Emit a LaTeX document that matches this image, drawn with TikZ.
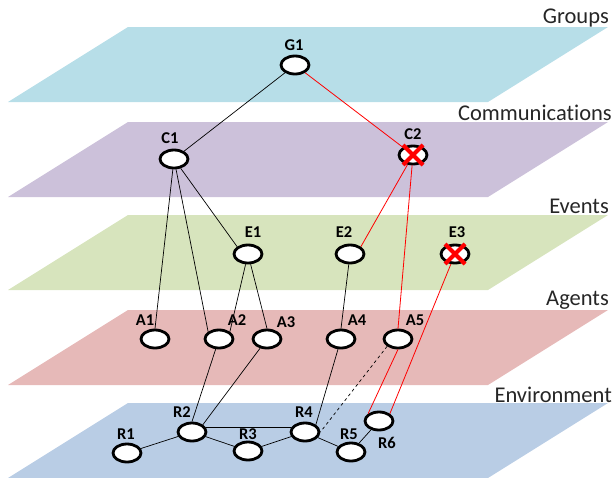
\documentclass[tikz,border=0pt]{standalone}
\usepackage{fontspec}
\setmainfont{Carlito}[Ligatures=NoCommon]
\usetikzlibrary{shapes.geometric}
\begin{document}
\begin{tikzpicture}[x=1pt,y=-1pt,
  nd/.style={ellipse,draw=black,line width=2.8pt,fill=white,minimum width=28pt,minimum height=18pt,inner sep=0pt},
  lb/.style={font=\fontsize{16.5}{16.5}\selectfont\bfseries,inner sep=0pt},
  layer/.style={font=\fontsize{22.5}{22.5}\selectfont,anchor=east,inner sep=0pt,text=black!85},
  bl/.style={draw=black,line width=0.7pt},
  rd/.style={draw=red,line width=0.8pt},
  xm/.style={draw=red,line width=4pt}]
\useasboundingbox (0,0) rectangle (613,477);
\definecolor{cgrp}{HTML}{B7DEE8}
\definecolor{ccom}{HTML}{CCC1DA}
\definecolor{cevt}{HTML}{D7E4BD}
\definecolor{cagt}{HTML}{E6B9B8}
\definecolor{cenv}{HTML}{B9CDE5}
% planes
\fill[cgrp] (128,27) -- (608,27) -- (488,102) -- (8,102) -- cycle;
\fill[ccom] (128,122) -- (608,122) -- (488,197) -- (8,197) -- cycle;
\fill[cevt] (128,215) -- (608,215) -- (488,290) -- (8,290) -- cycle;
\fill[cagt] (128,310) -- (608,310) -- (488,385) -- (8,385) -- cycle;
\fill[cenv] (128,403) -- (608,403) -- (488,478) -- (8,478) -- cycle;
% layer labels
\node[layer] (lgrp) at (609,18) {Groups};
\node[layer] (lcom) at (612,113) {Communications};
\node[layer] (levt) at (609,206) {Events};
\node[layer] (lagt) at (609,300) {Agents};
\node[layer] (lenv) at (612,395) {Environment};
% nodes
\node[nd] (G1) at (295,65) {};
\node[nd] (C1) at (174,159) {};
\node[nd] (C2) at (413,155) {};
\node[nd] (E1) at (248,254) {};
\node[nd] (E2) at (350,254) {};
\node[nd] (E3) at (455,254) {};
\node[nd] (A1) at (155,339) {};
\node[nd] (A2) at (219,339) {};
\node[nd] (A3) at (267,339) {};
\node[nd] (A4) at (341,339) {};
\node[nd] (A5) at (398,339) {};
\node[nd] (R1) at (127,453) {};
\node[nd] (R2) at (192,432) {};
\node[nd] (R3) at (248,451) {};
\node[nd] (R4) at (305,432) {};
\node[nd] (R5) at (351,452) {};
\node[nd] (R6) at (379,421) {};
% node labels
\node[lb] (G1l) at (294,45) {G1};
\node[lb] (C1l) at (170,138) {C1};
\node[lb] (C2l) at (413,134) {C2};
\node[lb] (E1l) at (253,232) {E1};
\node[lb] (E2l) at (344,232) {E2};
\node[lb] (E3l) at (457,232) {E3};
\node[lb] (A1l) at (145,320) {A1};
\node[lb] (A2l) at (237,320) {A2};
\node[lb] (A3l) at (286,322) {A3};
\node[lb] (A4l) at (357,320) {A4};
\node[lb] (A5l) at (415,320) {A5};
\node[lb] (R1l) at (126,434) {R1};
\node[lb] (R2l) at (182,412) {R2};
\node[lb] (R3l) at (248,434) {R3};
\node[lb] (R4l) at (304,412) {R4};
\node[lb] (R5l) at (349,434) {R5};
\node[lb] (R6l) at (387,443) {R6};
% edges
\path[bl] (G1) -- (C1);
\path[rd] (G1) -- (C2);
\path[bl] (C1) -- (A1.north);
\path[bl] (C1) -- (A2.north west);
\path[bl] (C1) -- (E1.north west);
\path[rd] (C2) -- (E2.north east);
\path[rd] (C2) -- (A5.north);
\path[rd] (A5.south) -- (R6.north west);
\path[rd] (E3) -- (R6.north east);
\path[bl] (E1) -- (A2.north east);
\path[bl] (E1) -- (A3.north);
\path[bl] (E2) -- (A4.north);
\path[bl] (A2) -- (R2.north);
\path[bl] (A3) -- (R2.north east);
\path[bl] (A4) -- (R4.north east);
\path[bl,dashed] (A5.south west) -- (R4.east);
\path[bl] (R1) -- (R2);
\path[bl] (R2) -- (R3);
\path[bl] (R2.20) -- (R4.160);
\path[bl] (R3) -- (R4);
\path[bl] (R4) -- (R5);
\path[bl] (R5) -- (R6);
% red crosses
\draw[xm] ([shift={(-10,-10)}]C2.center) -- ([shift={(10,10)}]C2.center);
\draw[xm] ([shift={(-10,10)}]C2.center) -- ([shift={(10,-10)}]C2.center);
\draw[xm] ([shift={(-10,-10)}]E3.center) -- ([shift={(10,10)}]E3.center);
\draw[xm] ([shift={(-10,10)}]E3.center) -- ([shift={(10,-10)}]E3.center);
\end{tikzpicture}
\end{document}
